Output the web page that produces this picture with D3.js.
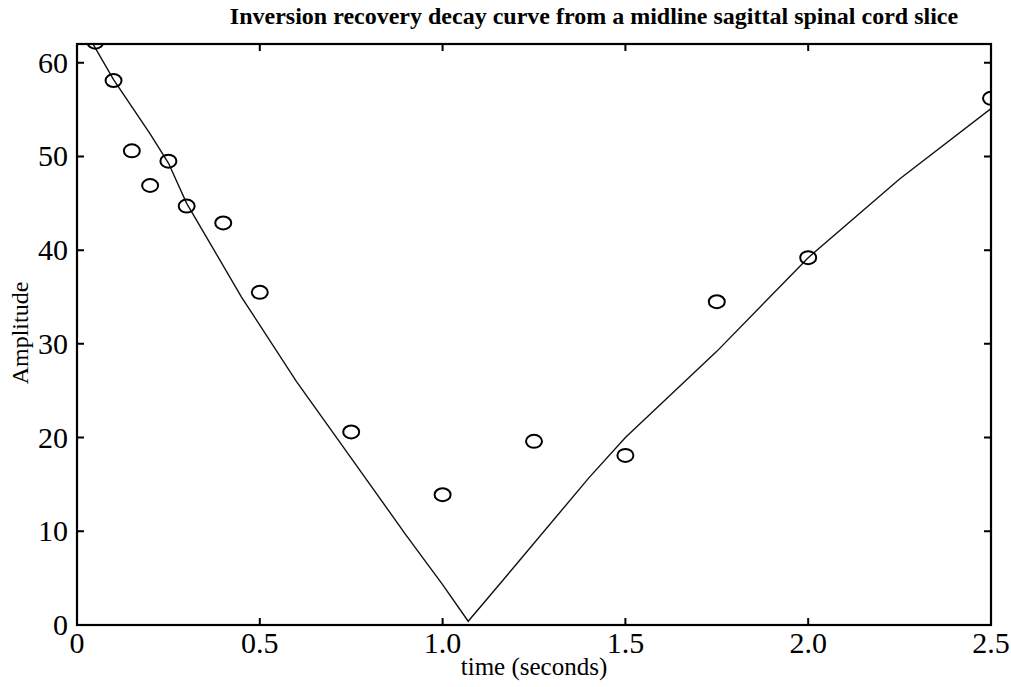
<!DOCTYPE html>
<html>
<head>
<meta charset="utf-8">
<script src="https://cdn.jsdelivr.net/npm/d3@7"></script>
<style>
    body { margin: 0; background: #fff; }
    svg text { font-family: 'Liberation Serif', 'Times New Roman', serif; fill: #000; }
</style>
</head>
<body>
<div id="chart"></div>
<script>
// measured samples (time in seconds, amplitude)
const sampleTimes = [0.05, 0.1, 0.15, 0.2, 0.25, 0.3, 0.4, 0.5, 0.75, 1.0, 1.25, 1.5, 1.75, 2.0, 2.5];
const sampleAmps = [62.2, 58.1, 50.6, 46.9, 49.5, 44.7, 42.9, 35.5, 20.6, 13.9, 19.6, 18.1, 34.5, 39.2, 56.2];

// fitted curve
const fitTimes = [0.02, 0.1, 0.2, 0.25, 0.3, 0.45, 0.6, 0.75, 0.9, 1.0, 1.07, 1.2, 1.4, 1.5, 1.75, 2.0, 2.25, 2.5];
const fitAmps = [63.6, 58.2, 52.4, 49.3, 45.0, 35.0, 26.0, 17.8, 9.6, 4.3, 0.4, 6.4, 15.7, 20.0, 29.2, 39.2, 47.6, 55.1];

const xTicks = [0, 0.5, 1.0, 1.5, 2.0, 2.5];
const xTickLabels = ['0', '0.5', '1.0', '1.5', '2.0', '2.5'];
const yTicks = [0, 10, 20, 30, 40, 50, 60];

const titleText = 'Inversion recovery decay curve from a midline sagittal spinal cord slice';
const xLabelText = 'time (seconds)';
const yLabelText = 'Amplitude';

let svg,
    plotG,
    markG,
    x,
    y,
    width = 1011,
    height = 687,
    plot = { left: 77, right: 991, top: 44, bottom: 625 },
    tickLen = 7;

svg = d3.select('#chart')
    .append('svg')
        .attr('width', width)
        .attr('height', height);

x = d3.scaleLinear()
    .domain([0, 2.5])
    .range([plot.left, plot.right]);

y = d3.scaleLinear()
    .domain([0, 62])
    .range([plot.bottom, plot.top]);

svg.append('defs')
    .append('clipPath')
        .attr('id', 'plot-clip')
    .append('rect')
        .attr('x', plot.left)
        .attr('y', plot.top)
        .attr('width', plot.right - plot.left)
        .attr('height', plot.bottom - plot.top);

plotG = svg.append('g').attr('class', 'plot');

markG = plotG.append('g')
    .attr('clip-path', 'url(#plot-clip)');

// fitted line
markG.append('path')
    .datum(fitTimes.map((t, i) => [t, fitAmps[i]]))
    .attr('fill', 'none')
    .attr('stroke', '#111')
    .attr('stroke-width', 1.4)
    .attr('d', d3.line().x(d => x(d[0])).y(d => y(d[1])));

// sample circles (slightly wide, like the scan)
markG.selectAll('ellipse')
    .data(sampleTimes)
    .enter()
    .append('ellipse')
        .attr('cx', d => x(d))
        .attr('cy', (d, i) => y(sampleAmps[i]))
        .attr('rx', 8)
        .attr('ry', 6.5)
        .attr('fill', 'none')
        .attr('stroke', '#000')
        .attr('stroke-width', 2);

// frame
plotG.append('rect')
    .attr('x', plot.left)
    .attr('y', plot.top)
    .attr('width', plot.right - plot.left)
    .attr('height', plot.bottom - plot.top)
    .attr('fill', 'none')
    .attr('stroke', '#000')
    .attr('stroke-width', 2.2);

// inward ticks on all four sides
plotG.append('g')
    .selectAll('path')
    .data(xTicks)
    .enter()
    .append('path')
        .attr('stroke', '#000')
        .attr('stroke-width', 2)
        .attr('d', d => {
            let xv = x(d);
            return 'M' + xv + ',' + plot.bottom + 'V' + (plot.bottom - tickLen) +
                'M' + xv + ',' + plot.top + 'V' + (plot.top + tickLen);
        });

plotG.append('g')
    .selectAll('path')
    .data(yTicks)
    .enter()
    .append('path')
        .attr('stroke', '#000')
        .attr('stroke-width', 2)
        .attr('d', d => {
            let yv = y(d);
            return 'M' + plot.left + ',' + yv + 'H' + (plot.left + tickLen) +
                'M' + plot.right + ',' + yv + 'H' + (plot.right - tickLen);
        });

// tick labels
plotG.append('g')
    .selectAll('text')
    .data(xTicks)
    .enter()
    .append('text')
        .text((d, i) => xTickLabels[i])
        .attr('x', d => x(d))
        .attr('y', plot.bottom + 28)
        .attr('text-anchor', 'middle')
        .style('font-size', '30px');

plotG.append('g')
    .selectAll('text')
    .data(yTicks)
    .enter()
    .append('text')
        .text(d => d)
        .attr('x', plot.left - 9)
        .attr('y', d => y(d) + 10)
        .attr('text-anchor', 'end')
        .style('font-size', '30px');

// titles
svg.append('text')
    .text(titleText)
    .attr('x', 594)
    .attr('y', 24)
    .attr('text-anchor', 'middle')
    .style('font-size', '24px')
    .style('font-weight', 'bold');

svg.append('text')
    .text(xLabelText)
    .attr('x', 534)
    .attr('y', 675)
    .attr('text-anchor', 'middle')
    .style('font-size', '25px');

svg.append('text')
    .text(yLabelText)
    .attr('transform', 'translate(28,333) rotate(-90)')
    .attr('text-anchor', 'middle')
    .style('font-size', '24px');
</script>
</body>
</html>
